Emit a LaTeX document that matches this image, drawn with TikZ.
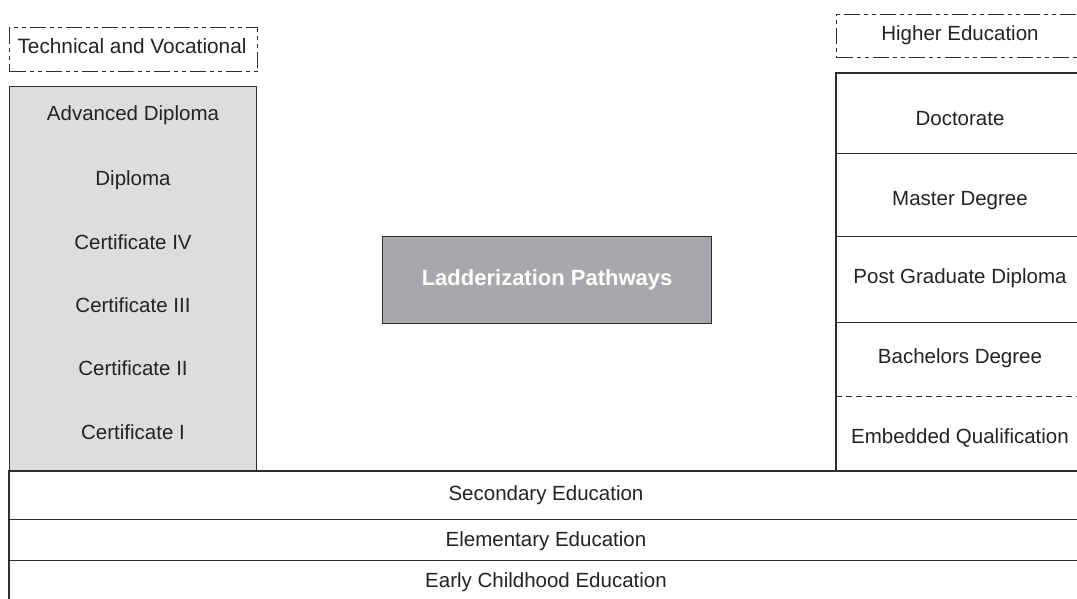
\documentclass[tikz,border=0pt]{standalone}
\usepackage{fontspec}
\setmainfont{Liberation Sans}
\definecolor{lc}{RGB}{45,45,45}
\definecolor{tc}{RGB}{35,35,35}
\definecolor{tvfill}{RGB}{220,221,223}
\definecolor{ladfill}{RGB}{167,168,171}
\begin{document}
\begin{tikzpicture}[x=1pt,y=-1pt,
  ln/.style={draw=lc,line width=1.2pt},
  heavyln/.style={draw=lc,line width=1.8pt},
  dashln/.style={draw=lc,line width=1.1pt,dash pattern=on 6pt off 4pt},
  dashbox/.style={draw=lc,line width=1.1pt,dash pattern=on 16pt off 4pt on 4pt off 4pt on 4pt off 4pt},
  lbl/.style={font=\fontsize{20.5}{24}\selectfont,text=tc,inner sep=0pt,anchor=base},
  area/.style={inner sep=0pt,anchor=north west}]
\useasboundingbox (0,0) rectangle (1077,599);

% Technical and Vocational
\node[area,dashbox,minimum width=248pt,minimum height=44pt] (tvhead) at (9,27) {};
\node[lbl,font=\fontsize{20.8}{24}\selectfont] (tvheadt) at (132,53.5) {Technical and Vocational};
\node[area,ln,fill=tvfill,minimum width=247pt,minimum height=385pt] (tvcol) at (9,86) {};
\node[lbl] (advdip) at (133,120.5) {Advanced Diploma};
\node[lbl] (dip) at (133,185.5) {Diploma};
\node[lbl] (c4) at (133,249.5) {Certificate IV};
\node[lbl] (c3) at (133,312.5) {Certificate III};
\node[lbl] (c2) at (133,375.5) {Certificate II};
\node[lbl] (c1) at (133,439.5) {Certificate I};

% Higher Education
\node[area,dashbox,minimum width=260pt,minimum height=43pt] (hehead) at (836,14) {};
\node[lbl] (heheadt) at (960,40.5) {Higher Education};
\node[area,minimum width=260pt,minimum height=80pt] (doc) at (836,73) {};
\node[area,minimum width=260pt,minimum height=83pt] (mas) at (836,153) {};
\node[area,minimum width=260pt,minimum height=86pt] (pgd) at (836,236) {};
\node[area,minimum width=260pt,minimum height=74pt] (bach) at (836,322) {};
\node[area,minimum width=260pt,minimum height=75pt] (emb) at (836,396) {};
\draw[ln] (doc.north east) -- (doc.north west) -- (emb.south west);
\draw[ln] (doc.south west) -- (doc.south east);
\draw[heavyln] (mas.south west) -- (mas.south east);
\draw[heavyln] (pgd.south west) -- (pgd.south east);
\draw[dashln] (bach.south west) -- (bach.south east);
\node[lbl] (doct) at (960,125.5) {Doctorate};
\node[lbl] (mast) at (960,205.5) {Master Degree};
\node[lbl] (pgdt) at (960,283.5) {Post Graduate Diploma};
\node[lbl] (bacht) at (960,363.5) {Bachelors Degree};
\node[lbl] (embt) at (960,443.5) {Embedded Qualification};

% Ladderization
\node[area,draw=lc,line width=1.2pt,fill=ladfill,minimum width=329pt,minimum height=87pt,
  font=\fontsize{22}{26}\selectfont\bfseries,text=white] (lad) at (382,236) {Ladderization Pathways};

% Bottom rows
\node[area,minimum width=1080pt,minimum height=48pt] (sec) at (9,471) {};
\node[area,minimum width=1080pt,minimum height=41pt] (elem) at (9,519) {};
\node[area,minimum width=1080pt,minimum height=45pt] (early) at (9,560) {};
\draw[ln] (sec.north east) -- (sec.north west) -- (early.south west);
\draw[ln] (sec.south west) -- (sec.south east);
\draw[ln] (elem.south west) -- (elem.south east);
\node[lbl] (sect) at (546,500.5) {Secondary Education};
\node[lbl] (elemt) at (546,546.5) {Elementary Education};
\node[lbl] (earlyt) at (546,587.5) {Early Childhood Education};
\end{tikzpicture}
\end{document}
